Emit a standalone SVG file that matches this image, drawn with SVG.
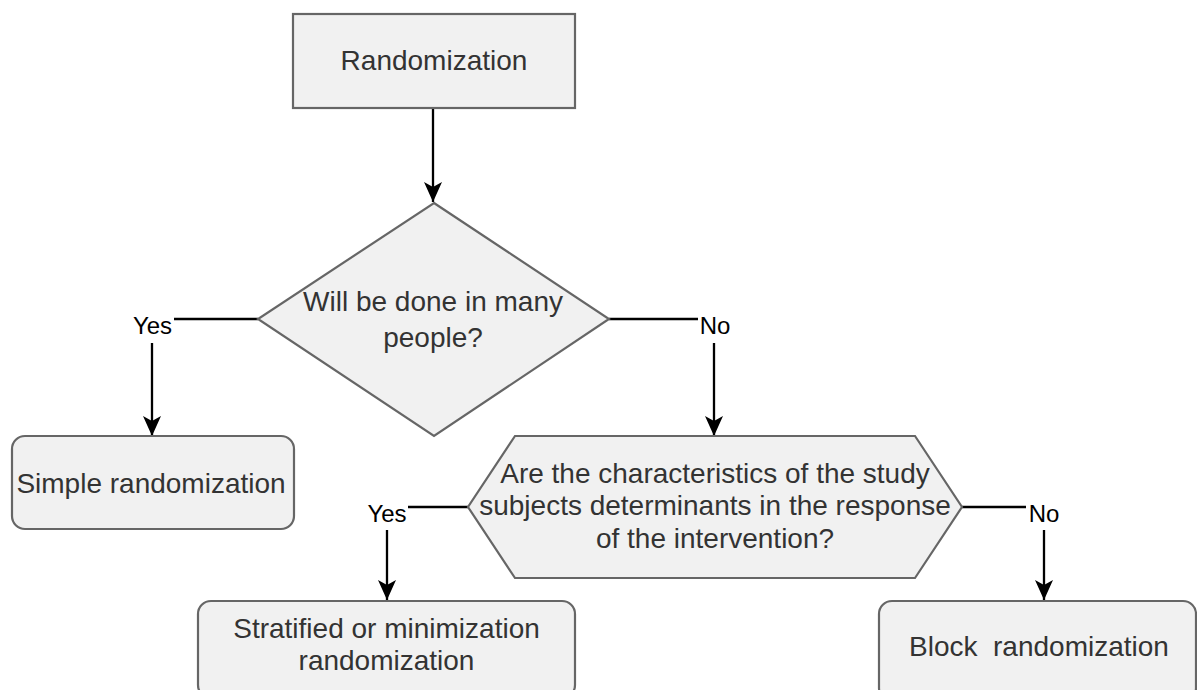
<svg xmlns="http://www.w3.org/2000/svg" width="1197" height="690" viewBox="0 0 1197 690">
<defs>
<marker id="arr" markerUnits="userSpaceOnUse" markerWidth="20" markerHeight="18" viewBox="0 0 20 18" refX="20" refY="9" orient="auto">
<path d="M0,0 L20,9 L0,18 L5,9 Z" fill="#000"/>
</marker>
</defs>
<style>
.node{fill:#f1f1f1;stroke:#666;stroke-width:2.2}
.t{font-family:"Liberation Sans",Arial,sans-serif;font-size:28px;fill:#333;text-anchor:middle}
.lbl{font-family:"Liberation Sans",Arial,sans-serif;font-size:24px;fill:#000;text-anchor:middle}
.edge{fill:none;stroke:#000;stroke-width:2.3}
</style>
<rect width="1197" height="690" fill="#fff"/>
<g id="connectors">
<path class="edge" d="M433,108 L433,202" marker-end="url(#arr)"/>
<path class="edge" d="M258,319 L152,319 L152,436" marker-end="url(#arr)"/>
<path class="edge" d="M609,319 L714,319 L714,436" marker-end="url(#arr)"/>
<path class="edge" d="M468,507 L387,507 L387,600" marker-end="url(#arr)"/>
<path class="edge" d="M962,507 L1044,507 L1044,600" marker-end="url(#arr)"/>
<g id="labels">
<rect x="131" y="312" width="43" height="31" fill="#fff"/>
<text class="lbl" x="152.5" y="334">Yes</text>
<rect x="698" y="312" width="36" height="31" fill="#fff"/>
<text class="lbl" x="715" y="334">No</text>
<rect x="366" y="500" width="42" height="30" fill="#fff"/>
<text class="lbl" x="387" y="522">Yes</text>
<rect x="1026" y="500" width="36" height="30" fill="#fff"/>
<text class="lbl" x="1044" y="522">No</text>
</g>
</g>
<g id="randomization">
<rect class="node" x="293" y="14" width="282" height="94"/>
<text class="t" x="434" y="70">Randomization</text>
</g>
<g id="decision1">
<polygon class="node" points="434,203 609,319 434,436 258,319"/>
<text class="t" x="433" y="311">Will be done in many</text>
<text class="t" x="433" y="347">people?</text>
</g>
<g id="simple">
<rect class="node" x="12" y="436" width="282" height="93" rx="13" ry="13"/>
<text class="t" x="151" y="493">Simple randomization</text>
</g>
<g id="decision2">
<polygon class="node" points="515,436 915,436 962,507 915,578 515,578 468,507"/>
<text class="t" x="715" y="483">Are the characteristics of the study</text>
<text class="t" x="715" y="515">subjects determinants in the response</text>
<text class="t" x="715" y="548">of the intervention?</text>
</g>
<g id="stratified">
<rect class="node" x="198" y="601" width="377" height="97" rx="13" ry="13"/>
<text class="t" x="386.5" y="638">Stratified or minimization</text>
<text class="t" x="386.5" y="670">randomization</text>
</g>
<g id="block">
<rect class="node" x="879" y="601" width="317" height="100" rx="13" ry="13"/>
<text class="t" x="909" y="656" style="text-anchor:start" xml:space="preserve">Block  randomization</text>
</g>
</svg>
